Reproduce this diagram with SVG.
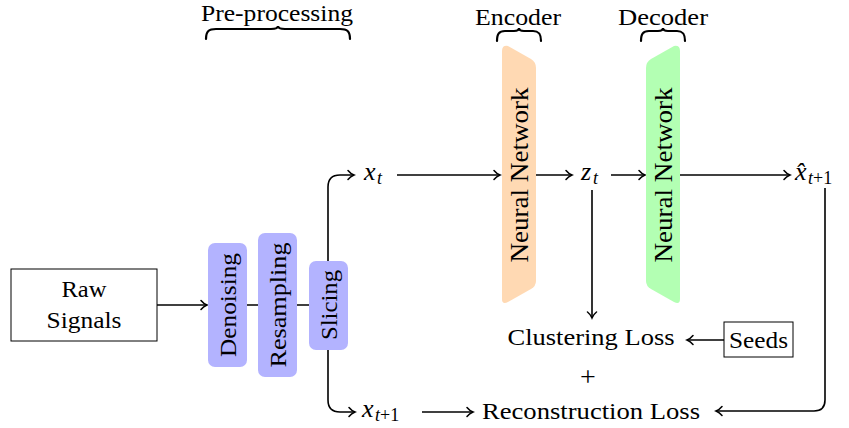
<svg xmlns="http://www.w3.org/2000/svg" width="849" height="428" viewBox="0 0 849 428">
<style>
.t{font-family:'Liberation Serif','DejaVu Serif','Times New Roman',serif;font-size:24px;fill:#000}
.m{font-family:'Liberation Serif','DejaVu Serif','Times New Roman',serif;font-size:26px;font-style:italic;fill:#000}
.s{font-size:18px}
.u{font-style:normal}
.c{fill:none;stroke:#000;stroke-width:1.6}
.br{fill:none;stroke:#000;stroke-width:2.2;stroke-linecap:round}
.blue{fill:#b3b3ff}
</style>
<defs>
<marker id="arr" viewBox="-10 -6 12 12" refX="0" refY="0" markerWidth="12" markerHeight="12" orient="auto" markerUnits="userSpaceOnUse">
<path d="M-6,-4.5 C-4,-2 -1.5,-0.6 0,0 C-1.5,0.6 -4,2 -6,4.5" fill="none" stroke="#000" stroke-width="1.5" stroke-linecap="round"/>
</marker>
</defs>
<rect width="849" height="428" fill="#fff"/>

<g id="connectors">
<path class="c" d="M157,305 H207" marker-end="url(#arr)"/>
<path class="c" d="M247,305 H258 M297,305 H309"/>
<path class="c" d="M328,262 V187 Q328,175 340,175 H354" marker-end="url(#arr)"/>
<path class="c" d="M328,349 V400 Q328,412 340,412 H355" marker-end="url(#arr)"/>
<path class="c" d="M397,175 H500" marker-end="url(#arr)"/>
<path class="c" d="M536,175 H572" marker-end="url(#arr)"/>
<path class="c" d="M611,175 H645" marker-end="url(#arr)"/>
<path class="c" d="M680,175 H790" marker-end="url(#arr)"/>
<path class="c" d="M592,190 V318" marker-end="url(#arr)"/>
<path class="c" d="M724,340 H687" marker-end="url(#arr)"/>
<path class="c" d="M422,412 H473" marker-end="url(#arr)"/>
<path class="c" d="M825,188 V400 Q825,411 814,411 H716" marker-end="url(#arr)"/>
</g>

<g id="preprocessing-label">
<text class="t" x="277" y="21" text-anchor="middle" textLength="152" lengthAdjust="spacingAndGlyphs">Pre-processing</text>
<path class="br" d="M206,39 C206,31 209,29 216,29 L271,29 C276,29 278,28 278,26 C278,28 280,29 285,29 L340,29 C347,29 350,31 350,39"/>
</g>

<g id="encoder-label">
<text class="t" x="518" y="25" text-anchor="middle" textLength="86" lengthAdjust="spacingAndGlyphs">Encoder</text>
<path class="br" d="M497,41 C497,34 499,31 505,31 L514,31 C517,31 519,30 519,28 C519,30 521,31 524,31 L533,31 C539,31 541,34 541,41"/>
</g>

<g id="decoder-label">
<text class="t" x="663" y="25" text-anchor="middle" textLength="90" lengthAdjust="spacingAndGlyphs">Decoder</text>
<path class="br" d="M641,41 C641,34 643,31 649,31 L658,31 C661,31 663,30 663,28 C663,30 665,31 668,31 L677,31 C683,31 685,34 685,41"/>
</g>

<g id="raw-signals">
<rect x="11" y="269" width="146" height="72" fill="#fff" stroke="#000" stroke-width="1"/>
<text class="t" x="84" y="297" text-anchor="middle" textLength="45" lengthAdjust="spacingAndGlyphs">Raw</text>
<text class="t" x="84" y="328" text-anchor="middle" textLength="75" lengthAdjust="spacingAndGlyphs">Signals</text>
</g>

<g id="denoising">
<rect class="blue" x="208" y="243" width="39" height="124" rx="7"/>
<text class="t" transform="translate(236,305) rotate(-90)" text-anchor="middle" textLength="104" lengthAdjust="spacingAndGlyphs">Denoising</text>
</g>

<g id="resampling">
<rect class="blue" x="258" y="233" width="39" height="144" rx="7"/>
<text class="t" transform="translate(286,305) rotate(-90)" text-anchor="middle" textLength="125" lengthAdjust="spacingAndGlyphs">Resampling</text>
</g>

<g id="slicing">
<rect class="blue" x="309" y="261" width="39" height="89" rx="7"/>
<text class="t" transform="translate(337,305) rotate(-90)" text-anchor="middle" textLength="70" lengthAdjust="spacingAndGlyphs">Slicing</text>
</g>

<g id="xt">
<text class="m" x="364" y="180">x<tspan class="s" x="377" y="184">t</tspan></text>
</g>

<g id="encoder">
<path fill="#ffd9b3" d="M502,51 Q502,45 508,46 L531,59 Q536,62 536,68 L536,281 Q536,286 531,289 L508,302 Q502,305 502,299 Z"/>
<text class="t" style="font-size:25px" transform="translate(528,175) rotate(-90)" text-anchor="middle" textLength="175" lengthAdjust="spacingAndGlyphs">Neural Network</text>
</g>

<g id="zt">
<text class="m" x="581" y="180">z<tspan class="s" x="593" y="184">t</tspan></text>
</g>

<g id="decoder">
<path fill="#b3ffb3" d="M680,51 Q680,45 674,46 L651,59 Q646,62 646,68 L646,281 Q646,286 651,289 L674,302 Q680,305 680,299 Z"/>
<text class="t" style="font-size:25px" transform="translate(672,175) rotate(-90)" text-anchor="middle" textLength="175" lengthAdjust="spacingAndGlyphs">Neural Network</text>
</g>

<g id="xhat">
<text class="m" x="795" y="180">x̂<tspan class="s" x="808" y="184">t<tspan class="u">+1</tspan></tspan></text>
</g>

<g id="xt1">
<text class="m" x="362" y="417">x<tspan class="s" x="375" y="421">t<tspan class="u">+1</tspan></tspan></text>
</g>

<g id="clustering-loss">
<text class="t" x="591" y="345" text-anchor="middle" textLength="167" lengthAdjust="spacingAndGlyphs">Clustering Loss</text>
</g>

<g id="plus">
<text class="t" x="588" y="386" text-anchor="middle" style="font-size:28px">+</text>
</g>

<g id="reconstruction-loss">
<text class="t" x="591" y="419" text-anchor="middle" textLength="218" lengthAdjust="spacingAndGlyphs">Reconstruction Loss</text>
</g>

<g id="seeds">
<rect x="724" y="322" width="69" height="35" fill="#fff" stroke="#000" stroke-width="1"/>
<text class="t" x="758.5" y="348" text-anchor="middle" textLength="59" lengthAdjust="spacingAndGlyphs">Seeds</text>
</g>
</svg>
